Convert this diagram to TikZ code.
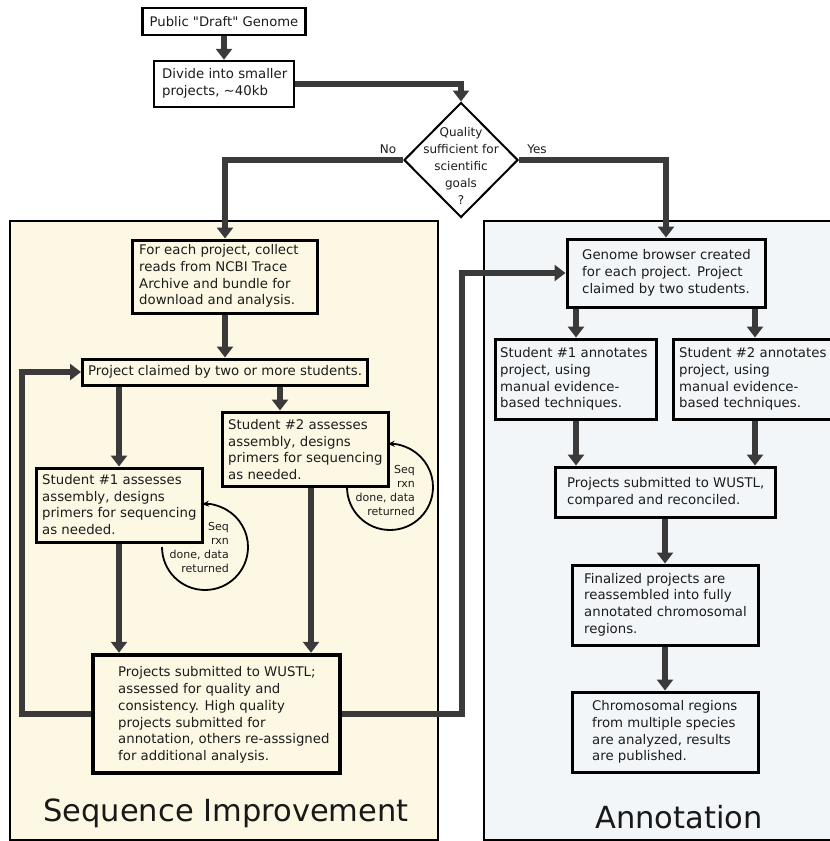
\documentclass[tikz,border=0pt]{standalone}
\usepackage{fontspec}
\setmainfont{DejaVu Sans}[Ligatures=TeXOff]
\usetikzlibrary{arrows.meta,shapes.geometric,calc}
\definecolor{cream}{RGB}{252,248,227}
\definecolor{paleblue}{RGB}{243,246,249}
\definecolor{conncol}{RGB}{58,58,58}
\definecolor{txtcol}{RGB}{28,28,28}
\begin{document}
\begin{tikzpicture}[x=1pt,y=-1pt,
  conn/.style={line width=6pt, draw=conncol, -{Triangle[width=16pt,length=11pt]}},
  box/.style={draw=black, line width=3pt, rectangle, inner sep=0pt},
  topbox/.style={box, line width=2.5pt, fill=white},
  txt/.style={anchor=west, align=left, inner sep=0pt, text=txtcol, font=\fontsize{13.3}{16.7}\selectfont},
  ctxt/.style={align=center, inner sep=0pt, text=txtcol, font=\fontsize{13.2}{15}\selectfont},
  looptxt/.style={anchor=east, align=right, inner sep=0pt, text=txtcol, font=\fontsize{11}{13.7}\selectfont},
  loopline/.style={draw=black, line width=1.8pt, -{Stealth[length=7pt,width=6pt]}},
  paneltitle/.style={inner sep=0pt, text=black!90, font=\fontsize{30.5}{36}\selectfont},
  panel/.style={draw=black, line width=2pt}
]
\useasboundingbox (0,0) rectangle (830,841);
\fill[white] (0,0) rectangle (830,841);

% panels
\draw[panel, fill=cream] (10,221) rectangle (438,840);
\draw[panel, fill=paleblue] (484,221) rectangle (840,840);

% top part
\node[topbox, minimum width=163pt, minimum height=27pt] (pub) at (224,21.5) {};
\node[ctxt] (pubT) at (224,21.5) {Public "Draft" Genome};
\node[topbox, minimum width=140pt, minimum height=46pt] (div) at (224,84) {};
\node[txt] (divT) at (162,83) {Divide into smaller\\projects, \textasciitilde40kb};
\node[diamond, draw=black, line width=2pt, fill=white, inner sep=0pt,
      minimum width=114pt, minimum height=115pt] (dia) at (461,160) {};
\node[ctxt, font=\fontsize{12}{17}\selectfont] (diaT) at (461,166) {Quality\\sufficient for\\scientific\\goals\\?};
\node[ctxt, font=\fontsize{12}{14}\selectfont] (no) at (388,149) {No};
\node[ctxt, font=\fontsize{12}{14}\selectfont] (yes) at (537,149) {Yes};

% left panel boxes
\node[box, minimum width=185pt, minimum height=73pt] (each) at (225,276.5) {};
\node[txt] (eachT) at (139,276) {For each project, collect\\reads from NCBI Trace\\Archive and bundle for\\download and analysis.};
\node[box, minimum width=285pt, minimum height=26pt] (claim) at (225,372) {};
\node[txt] (claimT) at (88,372) {Project claimed by two or more students.};
\node[box, minimum width=166pt, minimum height=74pt] (s2) at (305,449) {};
\node[txt] (s2T) at (228,449.5) {Student \#2 assesses\\assembly, designs\\primers for sequencing\\as needed.};
\node[box, minimum width=166pt, minimum height=74pt] (s1) at (119,505) {};
\node[txt] (s1T) at (42,504.5) {Student \#1 assesses\\assembly, designs\\primers for sequencing\\as needed.};
\node[box, line width=4.5pt, minimum width=247pt, minimum height=118pt] (wustl) at (216.5,714) {};
\node[txt] (wustlT) at (118,715) {Projects submitted to WUSTL;\\assessed for quality and\\consistency. High quality\\projects submitted for\\annotation, others re-asssigned\\for additional analysis.};

% loops
\coordinate (c1) at (205,547);
\coordinate (c2) at (390,487);
\draw[loopline] ([xshift=-43pt]c1) arc[start angle=180, end angle=454, radius=43pt];
\draw[loopline] ([xshift=-43pt]c2) arc[start angle=180, end angle=453, radius=43pt];
\node[looptxt] (c1T) at (229,547.5) {Seq\\rxn\\done, data\\returned};
\node[looptxt] (c2T) at (415,490.5) {Seq\\rxn\\done, data\\returned};

% right panel boxes
\node[box, minimum width=198pt, minimum height=68pt] (gb) at (666,273) {};
\node[txt] (gbT) at (582,273) {Genome browser created\\for each project. Project\\claimed by two students.};
\node[box, minimum width=161pt, minimum height=80pt] (a1) at (576,379) {};
\node[txt] (a1T) at (500,379) {Student \#1 annotates\\project, using\\manual evidence-\\based techniques.};
\node[box, minimum width=164pt, minimum height=80pt] (a2) at (755,379) {};
\node[txt] (a2T) at (679,379) {Student \#2 annotates\\project, using\\manual evidence-\\based techniques.};
\node[box, minimum width=220pt, minimum height=50pt] (cmp) at (665,492) {};
\node[txt] (cmpT) at (567,492) {Projects submitted to WUSTL,\\compared and reconciled.};
\node[box, minimum width=186pt, minimum height=80pt] (fin) at (665,605) {};
\node[txt] (finT) at (584,604.5) {Finalized projects are\\reassembled into fully\\annotated chromosomal\\regions.};
\node[box, minimum width=186pt, minimum height=80pt] (chr) at (665,732) {};
\node[txt] (chrT) at (592,732) {Chromosomal regions\\from multiple species\\are analyzed, results\\are published.};

% titles
\node[paneltitle] (seqtitle) at (226,813) {Sequence Improvement};
\node[paneltitle] (anntitle) at (679,817) {Annotation};

% connectors
\coordinate (fbL) at (22,714);
\coordinate (fbR) at (462,714);
\draw[conn] (pub.south) -- (div.north);
\draw[conn] (div.east) -| (dia.north);
\draw[conn] (dia.west) -| (each.north);
\draw[conn] (dia.east) -| (gb.north);
\draw[conn] (each.south) -- (claim.north);
\draw[conn] (claim.south -| s1.north) -- (s1.north);
\draw[conn] ([xshift=55pt]claim.south) -- ([xshift=-25pt]s2.north);
\draw[conn] (s1.south) -- (s1.south |- wustl.north);
\draw[conn] ([xshift=6pt]s2.south) -- ([xshift=6pt]s2.south |- wustl.north);
\draw[conn] (wustl.west) -- (fbL) |- (claim.west);
\draw[conn] (wustl.east) -- (fbR) |- (gb.west);
\draw[conn] (gb.south -| a1.north) -- (a1.north);
\draw[conn] (gb.south -| a2.north) -- (a2.north);
\draw[conn] (a1.south) -- (a1.south |- cmp.north);
\draw[conn] (a2.south) -- (a2.south |- cmp.north);
\draw[conn] (cmp.south) -- (fin.north);
\draw[conn] (fin.south) -- (chr.north);
\end{tikzpicture}
\end{document}
